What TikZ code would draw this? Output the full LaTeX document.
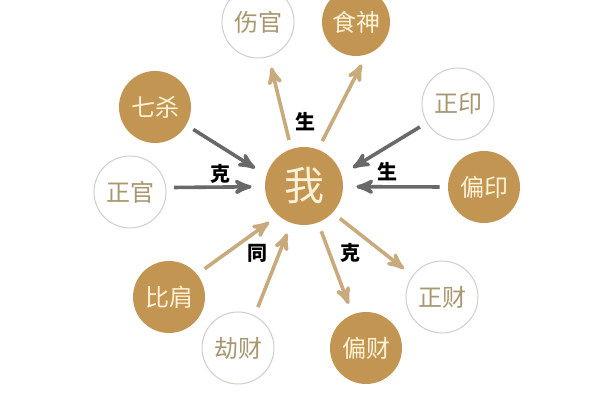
\documentclass[tikz,border=0pt]{standalone}
\usepackage{fontspec}
\newfontfamily\cjk{Noto Sans CJK SC}
\usetikzlibrary{arrows}
\definecolor{gold}{RGB}{194,150,82}
\definecolor{cream}{RGB}{255,242,214}
\definecolor{ringline}{RGB}{208,206,202}
\definecolor{ringtext}{RGB}{168,150,112}
\definecolor{tanline}{RGB}{201,170,125}
\definecolor{greyline}{RGB}{105,105,108}
\tikzset{
  godnode/.style = {circle, inner sep=0pt, minimum size=36pt,
    font=\cjk\fontsize{12}{12}\selectfont},
  fullgod/.style = {godnode, fill=gold, text=cream},
  ringgod/.style = {godnode, draw=ringline, line width=0.5pt, fill=white,
    text=ringtext},
  relword/.style = {font=\cjk\bfseries\fontsize{10}{10}\selectfont, text=black},
  outarrow/.style = {->, draw=tanline, line width=1.8pt,
    shorten <=4.5pt, shorten >=5.5pt},
  inarrow/.style = {->, draw=greyline, line width=1.8pt,
    shorten <=4pt, shorten >=6.5pt}
}
\begin{document}
\begin{tikzpicture}[x=0.5pt, y=-0.5pt, >=stealth']
\useasboundingbox[fill=white] (0,0) rectangle (600,400);
\node [fullgod, minimum size=39pt, font=\cjk\fontsize{20}{20}\selectfont] (wo) at (304,186) {我};
\node [ringgod] (shangguan) at (258,22) {伤官};
\node [fullgod, minimum size=34pt] (shishen) at (356,22) {食神};
\node [fullgod] (qisha) at (155,107) {七杀};
\node [ringgod] (zhengguan) at (130,192) {正官};
\node [ringgod] (zhengyin) at (458,104) {正印};
\node [fullgod] (pianyin) at (484,187) {偏印};
\node [fullgod] (bijian) at (169,297) {比肩};
\node [ringgod] (jiecai) at (238,348) {劫财};
\node [ringgod] (zhengcai) at (442,297) {正财};
\node [fullgod] (piancai) at (366,348) {偏财};
\draw [outarrow] (wo.109) -- (shangguan.-73);
\draw [outarrow] (wo.69) -- (shishen.-72);
\draw [inarrow] (qisha.-30) -- (wo.164);
\draw [inarrow] (zhengguan.7) -- (wo.181);
\draw [inarrow] (zhengyin.211) -- (wo.17);
\draw [inarrow] (pianyin.180) -- (wo.-1);
\draw [outarrow] (bijian.39) -- (wo.229);
\draw [outarrow] (jiecai.63) -- (wo.251);
\draw [outarrow] (wo.-43) -- (zhengcai.144);
\draw [outarrow] (wo.-69) -- (piancai.112);
\node [relword] (ke1) at (220,174) {克};
\node [relword] (sheng1) at (305,122) {生};
\node [relword] (sheng2) at (387,172) {生};
\node [relword] (tong) at (257,253) {同};
\node [relword] (ke2) at (350,253) {克};
\end{tikzpicture}
\end{document}
